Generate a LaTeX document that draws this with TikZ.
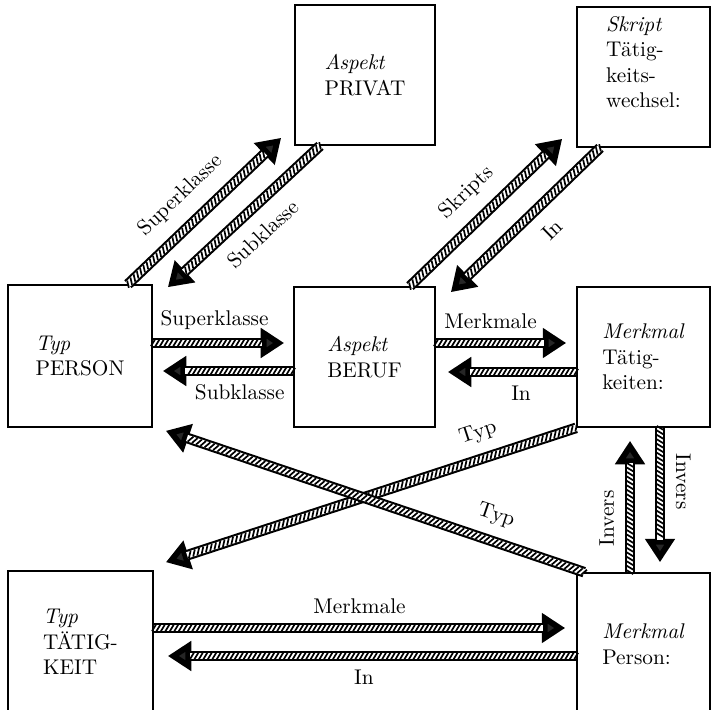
\documentclass[tikz,border=0pt]{standalone}
\usetikzlibrary{
    arrows.meta,
    calc,
    decorations.markings,
}
\tikzstyle{box} = [rectangle, draw, line width=0.8pt, align=left, inner sep=0pt]
\tikzstyle{lbl} = [inner sep=1pt]
\tikzset{
    hatched/.style={line width=5pt, -{Triangle[length=11pt,width=13.5pt,fill=black!85]},
        postaction={draw=white, -, line width=3pt, shorten >=10.5pt},
        postaction={decorate, decoration={markings,
            mark=between positions 0 and -11pt step 2.1pt with
                {\draw[-, line width=0.8pt] (-0.9pt,-1.5pt) -- (0.9pt,1.5pt);}}}},
}

\begin{document}
\begin{tikzpicture}[x=0.47pt, y=-0.47pt]
        \useasboundingbox (0,0) rectangle (711,710);
        \clip (0,0) rectangle (711,710);
        % Place nodes
        \node [box, minimum width=65.8pt, minimum height=65.8pt] (privat) at (365,75) {\textit{Aspekt}\\PRIVAT};
        \node [box, minimum width=62.5pt, minimum height=65.8pt, text depth=14pt] (skript) at (643.5,77) {\textit{Skript}\\Tätig-\\keits-\\wechsel:};
        \node [box, minimum width=67.7pt, minimum height=66.7pt] (person) at (80,356) {\textit{Typ}\\PERSON};
        \node [box, minimum width=66.3pt, minimum height=65.8pt] (beruf) at (364.5,357) {\textit{Aspekt}\\BERUF};
        \node [box, minimum width=62.5pt, minimum height=65.8pt] (tatkeiten) at (643.5,357) {\textit{Merkmal}\\Tätig-\\keiten:};
        \node [box, minimum width=68.2pt, minimum height=66.7pt] (taetigkeit) at (80.5,642) {\textit{Typ}\\TÄTIG-\\KEIT};
        \node [box, minimum width=62.5pt, minimum height=66.7pt] (mperson) at (643.5,644) {\textit{Merkmal}\\Person:};
        % Draw edges
        \draw [hatched] (128,0 |- person.north) -- node [lbl, above=5pt, sloped, pos=.47] {Superklasse} ($(privat.south west)+(-13,-8)$);
        \draw [hatched] (320,0 |- privat.south) -- node [lbl, below=5pt, sloped, pos=.49] {Subklasse} ($(person.north east)+(15,3)$);
        \draw [hatched] (person.east |- 0,343) -- node [lbl, above=3pt, pos=.47] {Superklasse} ($(beruf.west |- 0,343)+(-9,0)$);
        \draw [hatched] (beruf.west |- 0,371) -- node [lbl, below=3pt, pos=.41] {Subklasse} ($(person.east |- 0,371)+(10,0)$);
        \draw [hatched] (410,0 |- beruf.north) -- node [lbl, above=5pt, sloped, pos=.5] {Skripts} ($(skript.south west)+(-14,-9)$);
        \draw [hatched] (600,0 |- skript.south) -- node [lbl, below=5pt, sloped, pos=.44] {In} ($(beruf.north east)+(15,6)$);
        \draw [hatched] (beruf.east |- 0,343) -- node [lbl, above=3pt, pos=.42] {Merkmale} ($(tatkeiten.west |- 0,343)+(-10,0)$);
        \draw [hatched] (tatkeiten.west |- 0,372) -- node [lbl, below=3pt, pos=.43] {In} ($(beruf.east |- 0,372)+(12,0)$);
        \draw [hatched] (630,0 |- mperson.north) -- node [lbl, above=4pt, sloped, pos=.41] {Invers} ($(630,0 |- tatkeiten.south)+(0,13)$);
        \draw [hatched] (660,0 |- tatkeiten.south) -- node [lbl, above=4pt, sloped, pos=.40] {Invers} ($(660,0 |- mperson.north)+(0,-10)$);
        \draw [hatched] (tatkeiten.south west) -- node [lbl, above=4pt, sloped, pos=.22] {Typ} ($(taetigkeit.north east)+(12,-8)$);
        \draw [hatched] ($(mperson.north west)+(8,0)$) -- node [lbl, above=4pt, sloped, pos=.23] {Typ} ($(person.south east)+(13,3)$);
        \draw [hatched] (taetigkeit.east |- 0,628) -- node [lbl, above=3pt, pos=.5] {Merkmale} ($(mperson.west |- 0,628)+(-11,0)$);
        \draw [hatched] (mperson.west |- 0,656) -- node [lbl, below=3pt, pos=.52] {In} ($(taetigkeit.east |- 0,656)+(14,0)$);
    \end{tikzpicture}
\end{document}
